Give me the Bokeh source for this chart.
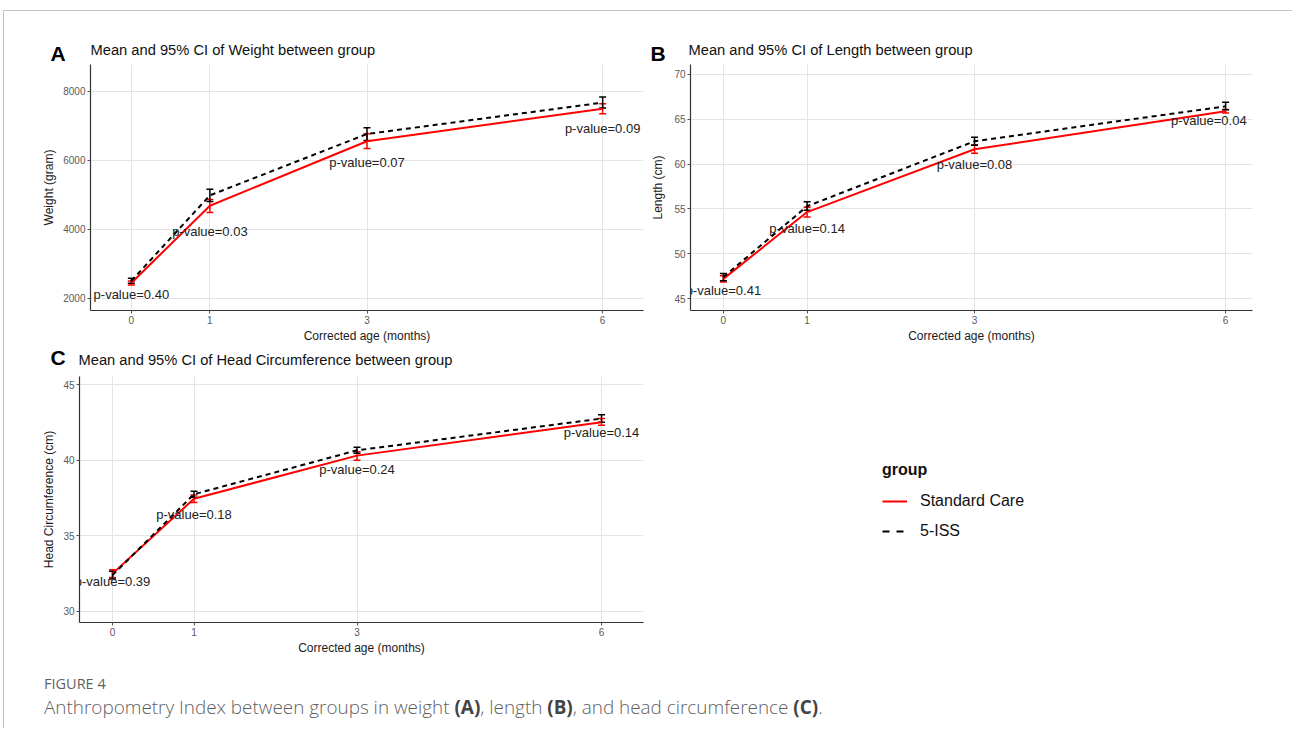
from bokeh.plotting import figure
from bokeh.models import (ColumnDataSource, Whisker, TeeHead, Label, Legend, LegendItem,
                          FixedTicker, Range1d, Div)
from bokeh.layouts import column, row
from bokeh.embed import file_html
from bokeh.resources import INLINE
from bokeh.core.properties import value

# ---------------- data ----------------
months = [0, 1, 3, 6]
x_tick_values = [0, 1, 3, 6]
group_labels = ["Standard Care", "5-ISS"]

weight_sc_mean = [2440, 4680, 6550, 7495]
weight_sc_low = [2380, 4480, 6340, 7345]
weight_sc_high = [2500, 4860, 6770, 7635]
weight_iss_mean = [2500, 4980, 6760, 7670]
weight_iss_low = [2430, 4800, 6570, 7515]
weight_iss_high = [2575, 5160, 6940, 7830]
weight_p_text = ["p-value=0.40", "p-value=0.03", "p-value=0.07", "p-value=0.09"]
weight_p_x = [0, 1, 3, 6]
weight_p_y = [2115, 3930, 5940, 6930]
weight_y_ticks = [2000, 4000, 6000, 8000]

length_sc_mean = [47.2, 54.65, 61.65, 65.9]
length_sc_low = [46.85, 54.1, 61.2, 65.7]
length_sc_high = [47.55, 55.2, 62.15, 66.1]
length_iss_mean = [47.4, 55.3, 62.55, 66.45]
length_iss_low = [47.0, 54.85, 62.1, 66.05]
length_iss_high = [47.8, 55.8, 63.0, 66.9]
length_p_text = ["p-value=0.41", "p-value=0.14", "p-value=0.08", "p-value=0.04"]
length_p_x = [0, 1, 3, 5.8]
length_p_y = [45.9, 52.8, 59.9, 64.9]
length_y_ticks = [45, 50, 55, 60, 65, 70]

head_sc_mean = [32.5, 37.45, 40.3, 42.5]
head_sc_low = [32.25, 37.2, 40.0, 42.3]
head_sc_high = [32.75, 37.7, 40.55, 42.75]
head_iss_mean = [32.4, 37.75, 40.65, 42.75]
head_iss_low = [32.15, 37.55, 40.45, 42.5]
head_iss_high = [32.65, 37.95, 40.85, 43.0]
head_p_text = ["p-value=0.39", "p-value=0.18", "p-value=0.24", "p-value=0.14"]
head_p_x = [0, 1, 3, 6]
head_p_y = [31.95, 36.4, 39.4, 41.85]
head_y_ticks = [30, 35, 40, 45]

panel_letters = ["A", "B", "C"]
panel_titles = ["Mean and 95% CI of Weight between group",
                "Mean and 95% CI of Length between group",
                "Mean and 95% CI of Head Circumference between group"]

FONT = "Liberation Sans"
RED = "#ff0000"
BLACK = "#000000"
GRID = "#e4e4e4"


def blank_fig(width, height):
    f = figure(width=width, height=height, x_range=Range1d(0, 1), y_range=Range1d(0, 1),
               x_axis_type=None, y_axis_type=None, output_backend="svg",
               toolbar_location=None, title=None,
               min_border_left=0, min_border_right=0, min_border_top=0, min_border_bottom=0)
    f.outline_line_color = None
    f.grid.grid_line_color = None
    f.background_fill_color = "white"
    f.border_fill_color = "white"
    return f


def add_heading(f, letter, title, letter_x, title_x, title_y):
    f.add_layout(Label(x=title_x, y=title_y, x_units="screen", y_units="screen",
                       text=title, text_font=FONT, text_font_size="14.7px",
                       text_color="#111111", text_align="left", text_baseline="middle"))
    f.add_layout(Label(x=letter_x, y=0, x_units="screen", y_units="screen",
                       text=letter, text_font=FONT, text_font_size="21px",
                       text_font_style="bold", text_color="#000000",
                       text_align="left", text_baseline="bottom"))


def make_panel(ylabel, sc, iss, ptxt, px, py, yticks, xr, yr,
               width, height, borders, ylabel_standoff):
    left, right, top, bottom = borders
    p = figure(width=width, height=height, x_range=Range1d(*xr), y_range=Range1d(*yr),
               output_backend="svg", toolbar_location=None, title=None,
               min_border_left=left, min_border_right=right,
               min_border_top=top, min_border_bottom=bottom)
    p.outline_line_color = None
    p.background_fill_color = "white"
    p.border_fill_color = "white"

    p.xaxis.ticker = FixedTicker(ticks=x_tick_values)
    p.yaxis.ticker = FixedTicker(ticks=yticks)
    p.xgrid.grid_line_color = GRID
    p.ygrid.grid_line_color = GRID
    for ax in (p.xaxis[0], p.yaxis[0]):
        ax.axis_line_color = "#333333"
        ax.axis_line_width = 1.2
        ax.major_tick_out = 3
        ax.major_tick_in = 0
        ax.major_tick_line_color = "#555555"
        ax.minor_tick_line_color = None
        ax.major_label_standoff = 2
        ax.major_label_text_font = FONT
        ax.major_label_text_font_size = "10px"
        ax.major_label_text_color = "#5a5a5a"
        ax.axis_label_text_font = FONT
        ax.axis_label_text_font_size = "12px"
        ax.axis_label_text_font_style = "normal"
        ax.axis_label_text_color = "#1a1a1a"
    p.xaxis.axis_label = "Corrected age (months)"
    p.xaxis.axis_label_standoff = 2
    p.yaxis.axis_label = ylabel
    p.yaxis.axis_label_standoff = ylabel_standoff

    sc_mean, sc_low, sc_high = sc
    iss_mean, iss_low, iss_high = iss
    p.line(months, sc_mean, line_color=RED, line_width=2)
    p.line(months, iss_mean, line_color=BLACK, line_width=2, line_dash="5 4")

    for lo, hi, col in ((sc_low, sc_high, RED), (iss_low, iss_high, BLACK)):
        src = ColumnDataSource(dict(x=months, lo=lo, hi=hi))
        w = Whisker(source=src, base="x", lower="lo", upper="hi",
                    line_color=col, line_width=1.5,
                    upper_head=TeeHead(size=7, line_color=col, line_width=1.5),
                    lower_head=TeeHead(size=7, line_color=col, line_width=1.5))
        p.add_layout(w)

    tsrc = ColumnDataSource(dict(x=px, y=py, t=ptxt))
    p.text(x="x", y="y", text="t", source=tsrc, text_align="center", text_baseline="middle",
           text_font=value(FONT), text_font_size="13px", text_color="#222222")
    return p


# heading strip for row 1 (panels A and B)
head1 = blank_fig(1284, 53)
add_heading(head1, panel_letters[0], panel_titles[0], 46, 86, 15)
add_heading(head1, panel_letters[1], panel_titles[1], 646, 684, 15)

pA = make_panel("Weight (gram)",
                (weight_sc_mean, weight_sc_low, weight_sc_high),
                (weight_iss_mean, weight_iss_low, weight_iss_high),
                weight_p_text, weight_p_x, weight_p_y, weight_y_ticks,
                (-0.52, 6.52), (1641, 8775), 644, 281, (86, 5, 0, 33), 4)

pB = make_panel("Length (cm)",
                (length_sc_mean, length_sc_low, length_sc_high),
                (length_iss_mean, length_iss_low, length_iss_high),
                length_p_text, length_p_x, length_p_y, length_y_ticks,
                (-0.393, 6.321), (43.67, 71.11), 640, 281, (40, 36, 0, 34), 6)

# heading strip for row 2 (panel C)
head2 = blank_fig(1284, 23)
add_heading(head2, panel_letters[2], panel_titles[2], 46, 74, 9)

pC = make_panel("Head Circumference (cm)",
                (head_sc_mean, head_sc_low, head_sc_high),
                (head_iss_mean, head_iss_low, head_iss_high),
                head_p_text, head_p_x, head_p_y, head_y_ticks,
                (-0.405, 6.515), (29.27, 45.53), 656, 292, (75, 17, 8, 38), 4)

# legend area beside panel C (legend swatches only, no visible data)
legfig = blank_fig(628, 292)
swatch = ColumnDataSource(dict(x=[float("nan")], y=[float("nan")]))
l_sc = legfig.line("x", "y", source=swatch, line_color=RED, line_width=2)
l_iss = legfig.line("x", "y", source=swatch, line_color=BLACK, line_width=2, line_dash="7 7")
legend = Legend(items=[LegendItem(label=group_labels[0], renderers=[l_sc]),
                       LegendItem(label=group_labels[1], renderers=[l_iss])],
                title="group", location=(222, 81))
legend.title_text_font = FONT
legend.title_text_font_style = "bold"
legend.title_text_font_size = "16px"
legend.title_text_color = "#111111"
legend.label_text_font = FONT
legend.label_text_font_size = "16px"
legend.label_text_color = "#111111"
legend.border_line_alpha = 0
legend.background_fill_alpha = 0
legend.padding = 0
legend.margin = 0
legend.spacing = 10
legend.glyph_width = 25
legend.glyph_height = 20
legend.label_height = 20
legend.label_standoff = 13
legend.title_standoff = 12
legfig.add_layout(legend)

caption = Div(
    text=(
        "<div style=\"font-family:'Open Sans',sans-serif;color:#5f5f5f;padding-left:35px;\">"
        "<div style=\"font-size:14.5px;line-height:18px;margin-top:10px;\">FIGURE 4</div>"
        "<div style=\"font-size:18.9px;line-height:22px;margin-top:3px;font-weight:300;\">"
        "Anthropometry Index between groups in weight <b style='color:#444;font-weight:700'>(A)</b>, "
        "length <b style='color:#444;font-weight:700'>(B)</b>, and head circumference "
        "<b style='color:#444;font-weight:700'>(C)</b>.</div></div>"
    ),
    width=1284, height=58)

layout = column(head1, row(pA, pB), head2, row(pC, legfig), caption,
                styles={"border-top": "1px solid #c4c4c4", "border-left": "1px solid #c4c4c4",
                        "margin-top": "10px", "margin-left": "3px"})

open("out.html", "w").write(file_html(layout, INLINE))
